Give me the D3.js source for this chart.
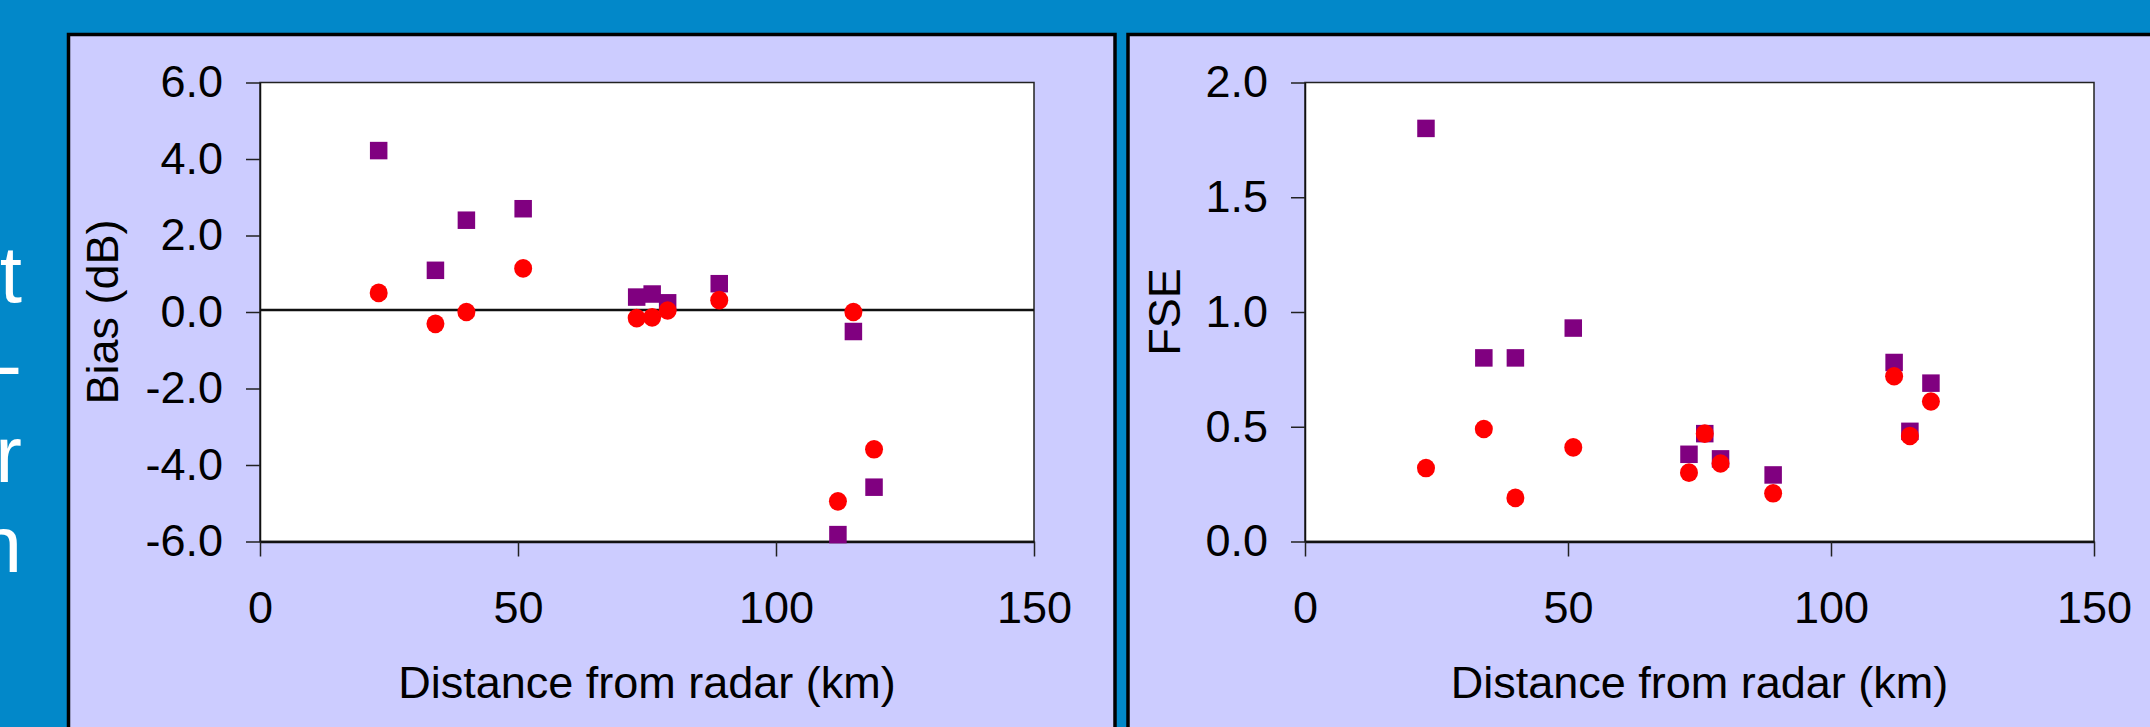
<!DOCTYPE html>
<html>
<head>
<meta charset="utf-8">
<script src="https://cdn.jsdelivr.net/npm/d3@7"></script>
<style>
  body { margin: 0; background: #0288c9; }
  svg { display: block; }
  text { font-family: "Liberation Sans", Arial, sans-serif; }
</style>
</head>
<body>
<div id="chart-area"></div>
<script>
// distances of the gauges from the radar (km)
var distance = [23, 34, 40, 51, 73, 76, 79, 89, 112, 115, 119];

// bias (dB), squares and circles
var biasSquare = [4.22, 1.09, 2.40, 2.70, 0.39, 0.47, 0.24, 0.74, -5.82, -0.51, -4.58];
var biasCircle = [0.50, -0.31, 0.00, 1.14, -0.16, -0.14, 0.04, 0.31, -4.95, 0.00, -3.59];

// fractional standard error
var fseSquare = [1.80, 0.80, 0.80, 0.93, 0.38, 0.47, 0.36, 0.29, 0.78, 0.48, 0.69];
var fseCircle = [0.32, 0.49, 0.19, 0.41, 0.30, 0.47, 0.34, 0.21, 0.72, 0.46, 0.61];

var xTicks = [0, 50, 100, 150];
var biasTicks = [-6, -4, -2, 0, 2, 4, 6];
var fseTicks = [0, 0.5, 1.0, 1.5, 2.0];
var biasRefLine = 0.05;

var slideText = ["t", "-", "r", "n"];

var W = 2150, H = 727;
var svg = d3.select("#chart-area").append("svg")
    .attr("width", W)
    .attr("height", H);

svg.append("rect").attr("width", W).attr("height", H).attr("fill", "#0288c9");

// bits of slide text peeking out on the left
svg.selectAll(".slide").data(slideText).enter()
    .append("text")
    .attr("class", "slide")
    .attr("x", 22)
    .attr("y", function (d, i) { return 302 + i * 90; })
    .attr("text-anchor", "end")
    .attr("fill", "white")
    .style("font-size", "80px")
    .text(function (d) { return d; });

function panel(opt) {
    svg.append("rect")
        .attr("x", opt.px).attr("y", 34.5)
        .attr("width", opt.pw).attr("height", 760)
        .attr("fill", "#ccccff")
        .attr("stroke", "#000")
        .attr("stroke-width", 3.5);

    var x = d3.scaleLinear().domain([0, 150]).range([opt.left, opt.right]);
    var y = d3.scaleLinear().domain(opt.domain).range([541.5, 82.5]);

    svg.append("rect")
        .attr("x", opt.left).attr("y", 82.5)
        .attr("width", opt.right - opt.left).attr("height", 541.5 - 82.5)
        .attr("fill", "white")
        .attr("stroke", "#222")
        .attr("stroke-width", 1.5);

    var yAxis = svg.append("g")
        .attr("transform", "translate(" + opt.left + ",0)")
        .call(d3.axisLeft(y).tickValues(opt.ticks)
            .tickSizeInner(14).tickSizeOuter(0).tickPadding(23)
            .tickFormat(function (d) { return d.toFixed(1); }));

    var xAxis = svg.append("g")
        .attr("transform", "translate(0,541.5)")
        .call(d3.axisBottom(x).tickValues(xTicks)
            .tickSizeInner(15).tickSizeOuter(0).tickPadding(35));

    [xAxis, yAxis].forEach(function (a) {
        a.selectAll("text").style("font-size", "45px").attr("fill", "#000");
        a.selectAll("line").attr("stroke", "#222").attr("stroke-width", 1.5);
        a.select(".domain").attr("stroke", "#111").attr("stroke-width", 1.5);
    });
    xAxis.select(".domain").attr("stroke-width", 2.5);

    if (opt.refLine !== undefined) {
        svg.append("line")
            .attr("x1", opt.left).attr("x2", opt.right)
            .attr("y1", y(opt.refLine)).attr("y2", y(opt.refLine))
            .attr("stroke", "#111").attr("stroke-width", 2.5);
    }

    // squares under circles
    svg.selectAll(null).data(opt.squares).enter()
        .append("rect")
        .attr("x", function (d, i) { return x(distance[i]) - 8.75; })
        .attr("y", function (d) { return y(d) - 8.75; })
        .attr("width", 17.5).attr("height", 17.5)
        .attr("fill", "#800080");

    svg.selectAll(null).data(opt.circles).enter()
        .append("ellipse")
        .attr("cx", function (d, i) { return x(distance[i]); })
        .attr("cy", function (d) { return y(d); })
        .attr("rx", 9).attr("ry", 9.3)
        .attr("fill", "#ff0000");

    svg.append("text")
        .attr("transform", "translate(" + opt.labelX + ",312) rotate(-90)")
        .attr("text-anchor", "middle")
        .style("font-size", "45px")
        .text(opt.yLabel);

    svg.append("text")
        .attr("x", (opt.left + opt.right) / 2)
        .attr("y", 698)
        .attr("text-anchor", "middle")
        .style("font-size", "45px")
        .text("Distance from radar (km)");
}

panel({ px: 68.5, pw: 1046.5, left: 260, right: 1034, domain: [-6, 6], ticks: biasTicks,
        squares: biasSquare, circles: biasCircle, refLine: biasRefLine,
        yLabel: "Bias (dB)", labelX: 118 });

panel({ px: 1128, pw: 1040, left: 1305, right: 2094, domain: [0, 2], ticks: fseTicks,
        squares: fseSquare, circles: fseCircle,
        yLabel: "FSE", labelX: 1180 });
</script>
</body>
</html>
